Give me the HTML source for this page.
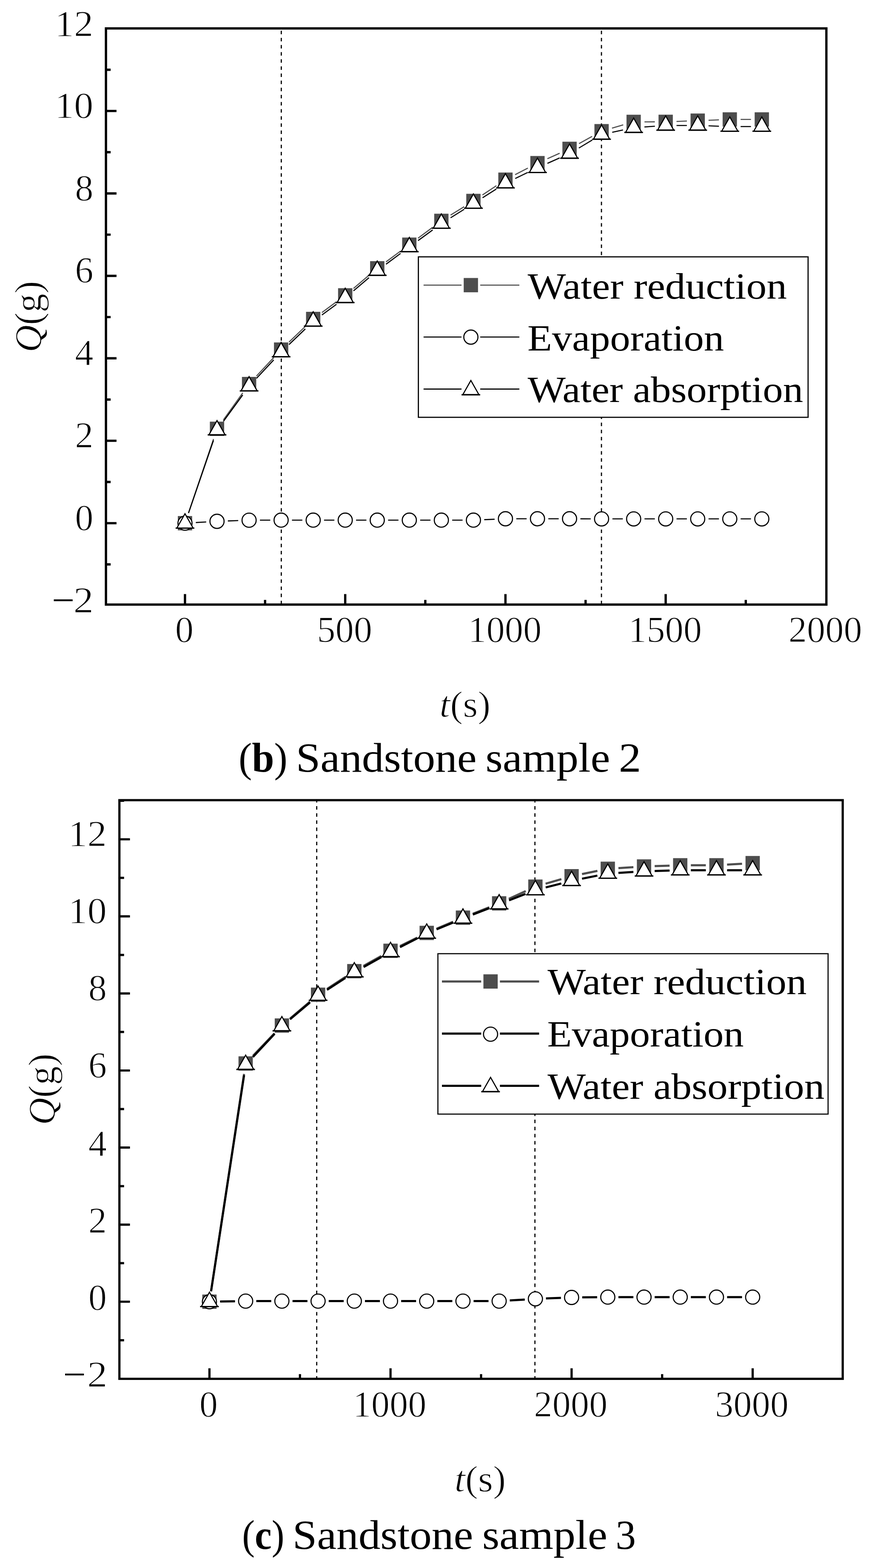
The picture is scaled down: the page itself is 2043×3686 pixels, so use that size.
<!DOCTYPE html>
<html><head><meta charset="utf-8"><title>Sandstone samples</title>
<style>html,body{margin:0;padding:0;background:#fff;width:2043px;height:3686px;overflow:hidden}svg{display:block}</style>
</head><body>
<svg width="2043" height="3686" viewBox="0 0 2043 3686" font-family="'Liberation Serif', 'DejaVu Serif', serif" font-size="86.5" fill="#000">
<rect width="2043" height="3686" fill="#fff"/>
<line x1="661.3" y1="72.3" x2="661.3" y2="1419.2" stroke="#000" stroke-width="2.7" stroke-dasharray="8.3 8.45" stroke-dashoffset="0"/>
<line x1="1414" y1="72.3" x2="1414" y2="1419.2" stroke="#000" stroke-width="2.7" stroke-dasharray="8.3 8.45" stroke-dashoffset="0"/>
<path d="M443.1 1205.8L502 1032.1M525.1 987.3L570.7 923.5M602.9 884.1L643.6 840.5M679.4 804.2L717.8 767.4M756.8 734.7L791.1 709.4M831.1 677.9L867.5 647.1M907.5 615.6L941.7 590.3M982.7 560L1017.2 534.4M1059.3 505.7L1091.3 485.9M1134.2 458.3L1167.1 436.5M1211 410.7L1241 395.2M1286.9 373.1L1315.7 360.3M1361.3 337.6L1392 320.7M1438.8 301.3L1465.2 293.6M1515.2 286.5L1539.5 286.4M1590.5 285.5L1614.9 284.5M1665.8 282.7L1690.2 281.7M1741.2 280.8L1765.5 280.8" stroke="#4d4d4d" stroke-width="2.6" fill="none" stroke-linecap="butt"/>
<rect x="418.1" y="1213.1" width="33.6" height="33.6" fill="#4d4d4d"/><rect x="493.4" y="991.2" width="33.6" height="33.6" fill="#4d4d4d"/><rect x="568.8" y="886" width="33.6" height="33.6" fill="#4d4d4d"/><rect x="644.1" y="805" width="33.6" height="33.6" fill="#4d4d4d"/><rect x="719.5" y="733" width="33.6" height="33.6" fill="#4d4d4d"/><rect x="794.8" y="677.5" width="33.6" height="33.6" fill="#4d4d4d"/><rect x="870.1" y="613.9" width="33.6" height="33.6" fill="#4d4d4d"/><rect x="945.5" y="558.4" width="33.6" height="33.6" fill="#4d4d4d"/><rect x="1020.8" y="502.4" width="33.6" height="33.6" fill="#4d4d4d"/><rect x="1096.2" y="455.6" width="33.6" height="33.6" fill="#4d4d4d"/><rect x="1171.5" y="405.6" width="33.6" height="33.6" fill="#4d4d4d"/><rect x="1246.8" y="366.7" width="33.6" height="33.6" fill="#4d4d4d"/><rect x="1322.2" y="333.1" width="33.6" height="33.6" fill="#4d4d4d"/><rect x="1397.5" y="291.6" width="33.6" height="33.6" fill="#4d4d4d"/><rect x="1472.9" y="269.7" width="33.6" height="33.6" fill="#4d4d4d"/><rect x="1548.2" y="269.6" width="33.6" height="33.6" fill="#4d4d4d"/><rect x="1623.5" y="266.8" width="33.6" height="33.6" fill="#4d4d4d"/><rect x="1698.9" y="264" width="33.6" height="33.6" fill="#4d4d4d"/><rect x="1774.2" y="264" width="33.6" height="33.6" fill="#4d4d4d"/>
<path d="M460.4 1228.4L484.8 1227M535.7 1224.6L560.1 1223.8M611.1 1222.8L635.4 1222.8M686.4 1222.7L710.8 1222.7M761.8 1222.7L786.1 1222.7M837.1 1222.7L861.4 1222.7M912.4 1222.7L936.8 1222.7M987.8 1222.7L1012.1 1222.7M1063.1 1222.7L1087.5 1222.7M1138.4 1221.6L1162.8 1220.6M1213.8 1219.5L1238.1 1219.5M1289.1 1219.5L1313.5 1219.5M1364.5 1219.6L1388.8 1219.7M1439.8 1219.8L1464.2 1219.8M1515.2 1219.8L1539.5 1219.8M1590.5 1219.8L1614.8 1219.8M1665.8 1219.8L1690.2 1219.8M1741.2 1219.8L1765.5 1219.8" stroke="#000" stroke-width="2.6" fill="none" stroke-linecap="butt"/>
<circle cx="434.9" cy="1229.9" r="16.6" fill="#fff" stroke="#000" stroke-width="2.6"/><circle cx="510.2" cy="1225.5" r="16.6" fill="#fff" stroke="#000" stroke-width="2.6"/><circle cx="585.6" cy="1222.9" r="16.6" fill="#fff" stroke="#000" stroke-width="2.6"/><circle cx="660.9" cy="1222.7" r="16.6" fill="#fff" stroke="#000" stroke-width="2.6"/><circle cx="736.3" cy="1222.7" r="16.6" fill="#fff" stroke="#000" stroke-width="2.6"/><circle cx="811.6" cy="1222.7" r="16.6" fill="#fff" stroke="#000" stroke-width="2.6"/><circle cx="886.9" cy="1222.7" r="16.6" fill="#fff" stroke="#000" stroke-width="2.6"/><circle cx="962.3" cy="1222.7" r="16.6" fill="#fff" stroke="#000" stroke-width="2.6"/><circle cx="1037.6" cy="1222.7" r="16.6" fill="#fff" stroke="#000" stroke-width="2.6"/><circle cx="1113" cy="1222.7" r="16.6" fill="#fff" stroke="#000" stroke-width="2.6"/><circle cx="1188.3" cy="1219.5" r="16.6" fill="#fff" stroke="#000" stroke-width="2.6"/><circle cx="1263.6" cy="1219.5" r="16.6" fill="#fff" stroke="#000" stroke-width="2.6"/><circle cx="1339" cy="1219.5" r="16.6" fill="#fff" stroke="#000" stroke-width="2.6"/><circle cx="1414.3" cy="1219.8" r="16.6" fill="#fff" stroke="#000" stroke-width="2.6"/><circle cx="1489.7" cy="1219.8" r="16.6" fill="#fff" stroke="#000" stroke-width="2.6"/><circle cx="1565" cy="1219.8" r="16.6" fill="#fff" stroke="#000" stroke-width="2.6"/><circle cx="1640.3" cy="1219.8" r="16.6" fill="#fff" stroke="#000" stroke-width="2.6"/><circle cx="1715.7" cy="1219.8" r="16.6" fill="#fff" stroke="#000" stroke-width="2.6"/><circle cx="1791" cy="1219.8" r="16.6" fill="#fff" stroke="#000" stroke-width="2.6"/>
<path d="M443.2 1206.2L501.9 1035.3M525.3 990.6L570.6 928.5M603 889.3L643.5 846.2M679.4 810L717.8 773.2M756.8 740.5L791.1 715.3M831 683.7L867.5 652.7M907.5 621.1L941.7 595.8M982.8 565.6L1017.1 540.6M1059.3 512L1091.3 492M1134.5 464.8L1166.8 444.4M1211.3 419.6L1240.7 405.4M1287 384L1315.7 371.3M1360.9 348L1392.4 329.2M1439.3 310.9L1464.7 305.5M1515.1 298.4L1539.6 296.8M1590.5 295L1614.8 295M1665.8 295.8L1690.2 296.7M1741.2 297.5L1765.5 297.5" stroke="#000" stroke-width="2.6" fill="none" stroke-linecap="butt"/>
<path d="M434.9 1207.7L415.9 1241.2L453.9 1241.2Z" fill="#fff" stroke="#000" stroke-width="2.6" stroke-linejoin="miter" stroke-miterlimit="3"/><path d="M412.9 1241.4H456.9" stroke="#000" stroke-width="3"/><path d="M510.2 988.6L491.2 1022.1L529.2 1022.1Z" fill="#fff" stroke="#000" stroke-width="2.6" stroke-linejoin="miter" stroke-miterlimit="3"/><path d="M488.2 1022.3H532.2" stroke="#000" stroke-width="3"/><path d="M585.6 885.3L566.6 918.8L604.6 918.8Z" fill="#fff" stroke="#000" stroke-width="2.6" stroke-linejoin="miter" stroke-miterlimit="3"/><path d="M563.6 919H607.6" stroke="#000" stroke-width="3"/><path d="M660.9 805L641.9 838.5L679.9 838.5Z" fill="#fff" stroke="#000" stroke-width="2.6" stroke-linejoin="miter" stroke-miterlimit="3"/><path d="M638.9 838.7H682.9" stroke="#000" stroke-width="3"/><path d="M736.3 733L717.3 766.5L755.3 766.5Z" fill="#fff" stroke="#000" stroke-width="2.6" stroke-linejoin="miter" stroke-miterlimit="3"/><path d="M714.3 766.7H758.3" stroke="#000" stroke-width="3"/><path d="M811.6 677.6L792.6 711.1L830.6 711.1Z" fill="#fff" stroke="#000" stroke-width="2.6" stroke-linejoin="miter" stroke-miterlimit="3"/><path d="M789.6 711.3H833.6" stroke="#000" stroke-width="3"/><path d="M886.9 613.6L867.9 647.1L905.9 647.1Z" fill="#fff" stroke="#000" stroke-width="2.6" stroke-linejoin="miter" stroke-miterlimit="3"/><path d="M864.9 647.3H908.9" stroke="#000" stroke-width="3"/><path d="M962.3 558.1L943.3 591.6L981.3 591.6Z" fill="#fff" stroke="#000" stroke-width="2.6" stroke-linejoin="miter" stroke-miterlimit="3"/><path d="M940.3 591.8H984.3" stroke="#000" stroke-width="3"/><path d="M1037.6 502.9L1018.6 536.4L1056.6 536.4Z" fill="#fff" stroke="#000" stroke-width="2.6" stroke-linejoin="miter" stroke-miterlimit="3"/><path d="M1015.6 536.6H1059.6" stroke="#000" stroke-width="3"/><path d="M1113 455.9L1094 489.4L1132 489.4Z" fill="#fff" stroke="#000" stroke-width="2.6" stroke-linejoin="miter" stroke-miterlimit="3"/><path d="M1091 489.6H1135" stroke="#000" stroke-width="3"/><path d="M1188.3 408.1L1169.3 441.6L1207.3 441.6Z" fill="#fff" stroke="#000" stroke-width="2.6" stroke-linejoin="miter" stroke-miterlimit="3"/><path d="M1166.3 441.8H1210.3" stroke="#000" stroke-width="3"/><path d="M1263.6 371.7L1244.6 405.2L1282.6 405.2Z" fill="#fff" stroke="#000" stroke-width="2.6" stroke-linejoin="miter" stroke-miterlimit="3"/><path d="M1241.6 405.4H1285.6" stroke="#000" stroke-width="3"/><path d="M1339 338.4L1320 371.9L1358 371.9Z" fill="#fff" stroke="#000" stroke-width="2.6" stroke-linejoin="miter" stroke-miterlimit="3"/><path d="M1317 372.1H1361" stroke="#000" stroke-width="3"/><path d="M1414.3 293.6L1395.3 327.1L1433.3 327.1Z" fill="#fff" stroke="#000" stroke-width="2.6" stroke-linejoin="miter" stroke-miterlimit="3"/><path d="M1392.3 327.3H1436.3" stroke="#000" stroke-width="3"/><path d="M1489.7 277.6L1470.7 311.1L1508.7 311.1Z" fill="#fff" stroke="#000" stroke-width="2.6" stroke-linejoin="miter" stroke-miterlimit="3"/><path d="M1467.7 311.3H1511.7" stroke="#000" stroke-width="3"/><path d="M1565 272.4L1546 305.9L1584 305.9Z" fill="#fff" stroke="#000" stroke-width="2.6" stroke-linejoin="miter" stroke-miterlimit="3"/><path d="M1543 306.1H1587" stroke="#000" stroke-width="3"/><path d="M1640.3 272.4L1621.3 305.9L1659.3 305.9Z" fill="#fff" stroke="#000" stroke-width="2.6" stroke-linejoin="miter" stroke-miterlimit="3"/><path d="M1618.3 306.1H1662.3" stroke="#000" stroke-width="3"/><path d="M1715.7 274.9L1696.7 308.4L1734.7 308.4Z" fill="#fff" stroke="#000" stroke-width="2.6" stroke-linejoin="miter" stroke-miterlimit="3"/><path d="M1693.7 308.6H1737.7" stroke="#000" stroke-width="3"/><path d="M1791 274.9L1772 308.4L1810 308.4Z" fill="#fff" stroke="#000" stroke-width="2.6" stroke-linejoin="miter" stroke-miterlimit="3"/><path d="M1769 308.6H1813" stroke="#000" stroke-width="3"/>
<rect x="249.1" y="66.8" width="1693.7" height="1354.4" fill="none" stroke="#000" stroke-width="5.4"/>
<path d="M249.1 1229.9H273.9M249.1 1036.1H273.9M249.1 842.3H273.9M249.1 648.5H273.9M249.1 454.7H273.9M249.1 260.9H273.9M249.1 1326.8H260.1M249.1 1133H260.1M249.1 939.2H260.1M249.1 745.4H260.1M249.1 551.6H260.1M249.1 357.8H260.1M249.1 164H260.1M434.9 1421.2V1396.4M811.6 1421.2V1396.4M1188.3 1421.2V1396.4M1565 1421.2V1396.4M623.2 1421.2V1410.2M999.9 1421.2V1410.2M1376.7 1421.2V1410.2M1753.3 1421.2V1410.2" stroke="#000" stroke-width="5.4" fill="none"/>
<g stroke="#fff" stroke-width="1.4">
<text transform="translate(220 1439.5) scale(1.1 1)" text-anchor="end"><tspan stroke="none">−</tspan><tspan dx="-3">2</tspan></text>
<text x="219.5" y="1245.7" text-anchor="end">0</text>
<text x="219.5" y="1051.9" text-anchor="end">2</text>
<text x="219.5" y="858.1" text-anchor="end">4</text>
<text x="219.5" y="664.3" text-anchor="end">6</text>
<text x="219.5" y="470.5" text-anchor="end">8</text>
<text transform="translate(219.5 276.7) scale(1.05 1)" text-anchor="end">10</text>
<text transform="translate(219.5 85) scale(1.05 1)" text-anchor="end">12</text>
<text x="433.4" y="1509" text-anchor="middle">0</text>
<text x="810.1" y="1509" text-anchor="middle">500</text>
<text x="1186.8" y="1509" text-anchor="middle">1000</text>
<text x="1563.5" y="1509" text-anchor="middle">1500</text>
<text x="1940.2" y="1509" text-anchor="middle">2000</text>
</g>
<g stroke="#fff" stroke-width="1.4">
<text transform="translate(96.1 744.3) rotate(-90)" text-anchor="middle" font-size="89"><tspan font-style="italic">Q</tspan>(g)</text>
<text x="1033.2" y="1685" textLength="120" lengthAdjust="spacingAndGlyphs"><tspan font-style="italic">t</tspan>(s)</text>
</g>
<rect x="983.6" y="603.8" width="916.2" height="377.2" fill="#fff" stroke="#000" stroke-width="2.7"/>
<path d="M995.8 670.3H1085 M1129 670.3H1221" stroke="#4d4d4d" stroke-width="2.6"/>
<path d="M995.8 792.3H1085 M1129 792.3H1221" stroke="#000" stroke-width="2.6"/>
<path d="M995.8 914.6H1085 M1129 914.6H1221" stroke="#000" stroke-width="2.6"/>
<rect x="1090.2" y="653.5" width="33.6" height="33.6" fill="#4d4d4d"/>
<circle cx="1107" cy="792.5" r="16.6" fill="#fff" stroke="#000" stroke-width="2.6"/>
<path d="M1107 894.4L1088 927.9L1126 927.9Z" fill="#fff" stroke="#000" stroke-width="2.6" stroke-linejoin="miter" stroke-miterlimit="3"/><path d="M1085 928.1H1129" stroke="#000" stroke-width="3"/>
<text x="1240.5" y="702" textLength="609.4" lengthAdjust="spacingAndGlyphs" font-size="87.5">Water reduction</text>
<text x="1240" y="823.8" textLength="462.1" lengthAdjust="spacingAndGlyphs" font-size="87.5">Evaporation</text>
<text x="1240.5" y="945.1" textLength="647.6" lengthAdjust="spacingAndGlyphs" font-size="87.5">Water absorption</text>
<g font-size="98">
<text x="561" y="1813.5" textLength="114.8" lengthAdjust="spacingAndGlyphs">(<tspan font-weight="bold">b</tspan>)</text>
<text x="695.8" y="1813.5" textLength="424.8" lengthAdjust="spacingAndGlyphs">Sandstone</text>
<text x="1141.6" y="1813.5" textLength="292.9" lengthAdjust="spacingAndGlyphs">sample</text>
<text x="1454.8" y="1813.5" textLength="52.5" lengthAdjust="spacingAndGlyphs">2</text>
</g>
<line x1="744.6" y1="1883.6" x2="744.6" y2="3239.3" stroke="#000" stroke-width="2.7" stroke-dasharray="8.3 8.45" stroke-dashoffset="5.3"/>
<line x1="1257.6" y1="1883.6" x2="1257.6" y2="3239.3" stroke="#000" stroke-width="2.7" stroke-dasharray="8.3 8.45" stroke-dashoffset="5.3"/>
<path d="M496.2 3035.3L573.8 2524.7M594.8 2481.9L645.4 2428.9M681.7 2394.6L728.8 2354.6M768.8 2324.8L812 2296.6M854.7 2270.7L896.3 2247.4M940.5 2224L980.8 2204.2M1026.3 2183.4L1065.3 2166.9M1111.6 2148L1150.3 2132.8M1196.2 2113.1L1236 2094.8M1282.7 2077.4L1319.8 2066.7M1368.3 2054.8L1404.5 2047.3M1453.9 2040.7L1489.1 2038.5M1539.1 2036.1L1574.2 2034.9M1624.2 2034.1L1659.4 2034.1M1709.3 2032.6L1744.5 2030.5" stroke="#4d4d4d" stroke-width="5.0" fill="none" stroke-linecap="butt"/>
<rect x="475.6" y="3043.2" width="33.6" height="33.6" fill="#4d4d4d"/><rect x="560.7" y="2483.2" width="33.6" height="33.6" fill="#4d4d4d"/><rect x="645.9" y="2394" width="33.6" height="33.6" fill="#4d4d4d"/><rect x="731" y="2321.6" width="33.6" height="33.6" fill="#4d4d4d"/><rect x="816.2" y="2266.2" width="33.6" height="33.6" fill="#4d4d4d"/><rect x="901.3" y="2218.3" width="33.6" height="33.6" fill="#4d4d4d"/><rect x="986.4" y="2176.3" width="33.6" height="33.6" fill="#4d4d4d"/><rect x="1071.6" y="2140.4" width="33.6" height="33.6" fill="#4d4d4d"/><rect x="1156.7" y="2106.8" width="33.6" height="33.6" fill="#4d4d4d"/><rect x="1241.9" y="2067.5" width="33.6" height="33.6" fill="#4d4d4d"/><rect x="1327" y="2043" width="33.6" height="33.6" fill="#4d4d4d"/><rect x="1412.1" y="2025.5" width="33.6" height="33.6" fill="#4d4d4d"/><rect x="1497.3" y="2020.1" width="33.6" height="33.6" fill="#4d4d4d"/><rect x="1582.4" y="2017.3" width="33.6" height="33.6" fill="#4d4d4d"/><rect x="1667.6" y="2017.3" width="33.6" height="33.6" fill="#4d4d4d"/><rect x="1752.7" y="2012.2" width="33.6" height="33.6" fill="#4d4d4d"/>
<path d="M517.4 3059.6L552.5 3059M602.5 3058.6L637.7 3058.6M687.7 3058.6L722.8 3058.6M772.8 3058.6L808 3058.6M858 3058.6L893.1 3058.6M943.1 3058.6L978.2 3058.6M1028.2 3058.6L1063.4 3058.6M1113.4 3058.6L1148.5 3058.6M1198.5 3057L1233.7 3054.9M1283.6 3052.3L1318.8 3051M1368.8 3049.8L1403.9 3049.4M1453.9 3049.2L1489.1 3049.2M1539.1 3049.2L1574.2 3049.2M1624.2 3049.2L1659.4 3049.2M1709.4 3049.2L1744.5 3049.2" stroke="#000" stroke-width="5.0" fill="none" stroke-linecap="butt"/>
<circle cx="492.4" cy="3060" r="16.6" fill="#fff" stroke="#000" stroke-width="2.6"/><circle cx="577.5" cy="3058.6" r="16.6" fill="#fff" stroke="#000" stroke-width="2.6"/><circle cx="662.7" cy="3058.6" r="16.6" fill="#fff" stroke="#000" stroke-width="2.6"/><circle cx="747.8" cy="3058.6" r="16.6" fill="#fff" stroke="#000" stroke-width="2.6"/><circle cx="833" cy="3058.6" r="16.6" fill="#fff" stroke="#000" stroke-width="2.6"/><circle cx="918.1" cy="3058.6" r="16.6" fill="#fff" stroke="#000" stroke-width="2.6"/><circle cx="1003.2" cy="3058.6" r="16.6" fill="#fff" stroke="#000" stroke-width="2.6"/><circle cx="1088.4" cy="3058.6" r="16.6" fill="#fff" stroke="#000" stroke-width="2.6"/><circle cx="1173.5" cy="3058.6" r="16.6" fill="#fff" stroke="#000" stroke-width="2.6"/><circle cx="1258.7" cy="3053.3" r="16.6" fill="#fff" stroke="#000" stroke-width="2.6"/><circle cx="1343.8" cy="3050" r="16.6" fill="#fff" stroke="#000" stroke-width="2.6"/><circle cx="1428.9" cy="3049.2" r="16.6" fill="#fff" stroke="#000" stroke-width="2.6"/><circle cx="1514.1" cy="3049.2" r="16.6" fill="#fff" stroke="#000" stroke-width="2.6"/><circle cx="1599.2" cy="3049.2" r="16.6" fill="#fff" stroke="#000" stroke-width="2.6"/><circle cx="1684.4" cy="3049.2" r="16.6" fill="#fff" stroke="#000" stroke-width="2.6"/><circle cx="1769.5" cy="3049.2" r="16.6" fill="#fff" stroke="#000" stroke-width="2.6"/>
<path d="M496.2 3035.6L573.8 2527.7M594.6 2484.8L645.6 2430.4M681.8 2396.1L728.7 2356.5M768.8 2326.8L812 2299M854.8 2273.2L896.3 2250M940.4 2226.4L981 2205.8M1026.3 2184.8L1065.3 2168.7M1111.6 2149.9L1150.3 2134.8M1196.8 2116.5L1235.4 2101.4M1282.9 2086.1L1319.6 2076.8M1368.3 2065.6L1404.4 2058.4M1453.9 2051.9L1489.1 2049.7M1539.1 2047.5L1574.2 2046.4M1624.2 2045.7L1659.4 2045.7M1709.4 2045.7L1744.5 2045.7" stroke="#000" stroke-width="5.0" fill="none" stroke-linecap="butt"/>
<path d="M492.4 3037.7L473.4 3071.2L511.4 3071.2Z" fill="#fff" stroke="#000" stroke-width="2.6" stroke-linejoin="miter" stroke-miterlimit="3"/><path d="M470.4 3071.4H514.4" stroke="#000" stroke-width="3"/><path d="M577.5 2480.4L558.5 2513.9L596.5 2513.9Z" fill="#fff" stroke="#000" stroke-width="2.6" stroke-linejoin="miter" stroke-miterlimit="3"/><path d="M555.5 2514.1H599.5" stroke="#000" stroke-width="3"/><path d="M662.7 2389.6L643.7 2423.1L681.7 2423.1Z" fill="#fff" stroke="#000" stroke-width="2.6" stroke-linejoin="miter" stroke-miterlimit="3"/><path d="M640.7 2423.3H684.7" stroke="#000" stroke-width="3"/><path d="M747.8 2317.8L728.8 2351.3L766.8 2351.3Z" fill="#fff" stroke="#000" stroke-width="2.6" stroke-linejoin="miter" stroke-miterlimit="3"/><path d="M725.8 2351.5H769.8" stroke="#000" stroke-width="3"/><path d="M833 2262.8L814 2296.3L852 2296.3Z" fill="#fff" stroke="#000" stroke-width="2.6" stroke-linejoin="miter" stroke-miterlimit="3"/><path d="M811 2296.5H855" stroke="#000" stroke-width="3"/><path d="M918.1 2215.2L899.1 2248.7L937.1 2248.7Z" fill="#fff" stroke="#000" stroke-width="2.6" stroke-linejoin="miter" stroke-miterlimit="3"/><path d="M896.1 2248.9H940.1" stroke="#000" stroke-width="3"/><path d="M1003.2 2171.8L984.2 2205.3L1022.2 2205.3Z" fill="#fff" stroke="#000" stroke-width="2.6" stroke-linejoin="miter" stroke-miterlimit="3"/><path d="M981.2 2205.5H1025.2" stroke="#000" stroke-width="3"/><path d="M1088.4 2136.5L1069.4 2170L1107.4 2170Z" fill="#fff" stroke="#000" stroke-width="2.6" stroke-linejoin="miter" stroke-miterlimit="3"/><path d="M1066.4 2170.2H1110.4" stroke="#000" stroke-width="3"/><path d="M1173.5 2103L1154.5 2136.5L1192.5 2136.5Z" fill="#fff" stroke="#000" stroke-width="2.6" stroke-linejoin="miter" stroke-miterlimit="3"/><path d="M1151.5 2136.7H1195.5" stroke="#000" stroke-width="3"/><path d="M1258.7 2069.7L1239.7 2103.2L1277.7 2103.2Z" fill="#fff" stroke="#000" stroke-width="2.6" stroke-linejoin="miter" stroke-miterlimit="3"/><path d="M1236.7 2103.4H1280.7" stroke="#000" stroke-width="3"/><path d="M1343.8 2048L1324.8 2081.5L1362.8 2081.5Z" fill="#fff" stroke="#000" stroke-width="2.6" stroke-linejoin="miter" stroke-miterlimit="3"/><path d="M1321.8 2081.7H1365.8" stroke="#000" stroke-width="3"/><path d="M1428.9 2030.8L1409.9 2064.3L1447.9 2064.3Z" fill="#fff" stroke="#000" stroke-width="2.6" stroke-linejoin="miter" stroke-miterlimit="3"/><path d="M1406.9 2064.5H1450.9" stroke="#000" stroke-width="3"/><path d="M1514.1 2025.6L1495.1 2059.1L1533.1 2059.1Z" fill="#fff" stroke="#000" stroke-width="2.6" stroke-linejoin="miter" stroke-miterlimit="3"/><path d="M1492.1 2059.3H1536.1" stroke="#000" stroke-width="3"/><path d="M1599.2 2023.1L1580.2 2056.6L1618.2 2056.6Z" fill="#fff" stroke="#000" stroke-width="2.6" stroke-linejoin="miter" stroke-miterlimit="3"/><path d="M1577.2 2056.8H1621.2" stroke="#000" stroke-width="3"/><path d="M1684.4 2023.1L1665.4 2056.6L1703.4 2056.6Z" fill="#fff" stroke="#000" stroke-width="2.6" stroke-linejoin="miter" stroke-miterlimit="3"/><path d="M1662.4 2056.8H1706.4" stroke="#000" stroke-width="3"/><path d="M1769.5 2023.1L1750.5 2056.6L1788.5 2056.6Z" fill="#fff" stroke="#000" stroke-width="2.6" stroke-linejoin="miter" stroke-miterlimit="3"/><path d="M1747.5 2056.8H1791.5" stroke="#000" stroke-width="3"/>
<rect x="280.7" y="1881" width="1700.5" height="1360.3" fill="none" stroke="#000" stroke-width="5.2"/>
<path d="M280.7 3060H305.5M280.7 2878.8H305.5M280.7 2697.7H305.5M280.7 2516.5H305.5M280.7 2335.4H305.5M280.7 2154.2H305.5M280.7 1973H305.5M280.7 3150.6H291.7M280.7 2969.4H291.7M280.7 2788.3H291.7M280.7 2607.1H291.7M280.7 2425.9H291.7M280.7 2244.8H291.7M280.7 2063.6H291.7M280.7 1882.5H291.7M492.4 3241.3V3216.5M918.1 3241.3V3216.5M1343.8 3241.3V3216.5M1769.5 3241.3V3216.5M705.2 3241.3V3230.3M1131 3241.3V3230.3M1556.7 3241.3V3230.3" stroke="#000" stroke-width="5.2" fill="none"/>
<g stroke="#fff" stroke-width="1.4">
<text transform="translate(252.5 3260.2) scale(1.1 1)" text-anchor="end"><tspan stroke="none">−</tspan><tspan dx="2.5">2</tspan></text>
<text x="251" y="3079" text-anchor="end">0</text>
<text x="251" y="2897.8" text-anchor="end">2</text>
<text x="251" y="2716.7" text-anchor="end">4</text>
<text x="251" y="2532.5" text-anchor="end">6</text>
<text x="251" y="2351.4" text-anchor="end">8</text>
<text transform="translate(251 2170.2) scale(1.05 1)" text-anchor="end">10</text>
<text transform="translate(251 1989) scale(1.05 1)" text-anchor="end">12</text>
<text x="490.4" y="3330" text-anchor="middle">0</text>
<text x="916.1" y="3330" text-anchor="middle">1000</text>
<text x="1341.8" y="3330" text-anchor="middle">2000</text>
<text x="1767.5" y="3330" text-anchor="middle">3000</text>
</g>
<g stroke="#fff" stroke-width="1.4">
<text transform="translate(127.6 2560.7) rotate(-90)" text-anchor="middle" font-size="89"><tspan font-style="italic">Q</tspan>(g)</text>
<text x="1068.5" y="3506" textLength="120.8" lengthAdjust="spacingAndGlyphs"><tspan font-style="italic">t</tspan>(s)</text>
</g>
<rect x="1029.5" y="2241.9" width="917.3" height="377.1" fill="#fff" stroke="#000" stroke-width="2.6"/>
<path d="M1039 2307.2H1131.3 M1175.3 2307.2H1267.4" stroke="#4d4d4d" stroke-width="5.0"/>
<path d="M1039 2429.7H1131.3 M1175.3 2429.7H1267.4" stroke="#000" stroke-width="5.0"/>
<path d="M1039 2552.4H1131.3 M1175.3 2552.4H1267.4" stroke="#000" stroke-width="5.0"/>
<rect x="1136.5" y="2290.4" width="33.6" height="33.6" fill="#4d4d4d"/>
<circle cx="1153.3" cy="2431.1" r="16.6" fill="#fff" stroke="#000" stroke-width="2.6"/>
<path d="M1153.3 2532.6L1134.3 2566.1L1172.3 2566.1Z" fill="#fff" stroke="#000" stroke-width="2.6" stroke-linejoin="miter" stroke-miterlimit="3"/><path d="M1131.3 2566.3H1175.3" stroke="#000" stroke-width="3"/>
<text x="1287.3" y="2337.2" textLength="609.2" lengthAdjust="spacingAndGlyphs" font-size="87.5">Water reduction</text>
<text x="1286.4" y="2460.2" textLength="462.2" lengthAdjust="spacingAndGlyphs" font-size="87.5">Evaporation</text>
<text x="1287.3" y="2583.1" textLength="651" lengthAdjust="spacingAndGlyphs" font-size="87.5">Water absorption</text>
<g font-size="98">
<text x="569.3" y="3641" textLength="99.1" lengthAdjust="spacingAndGlyphs">(<tspan font-weight="bold">c</tspan>)</text>
<text x="687.7" y="3641" textLength="424.7" lengthAdjust="spacingAndGlyphs">Sandstone</text>
<text x="1133.7" y="3641" textLength="294.1" lengthAdjust="spacingAndGlyphs">sample</text>
<text x="1447.2" y="3641" textLength="47.7" lengthAdjust="spacingAndGlyphs">3</text>
</g>
</svg>
</body></html>
